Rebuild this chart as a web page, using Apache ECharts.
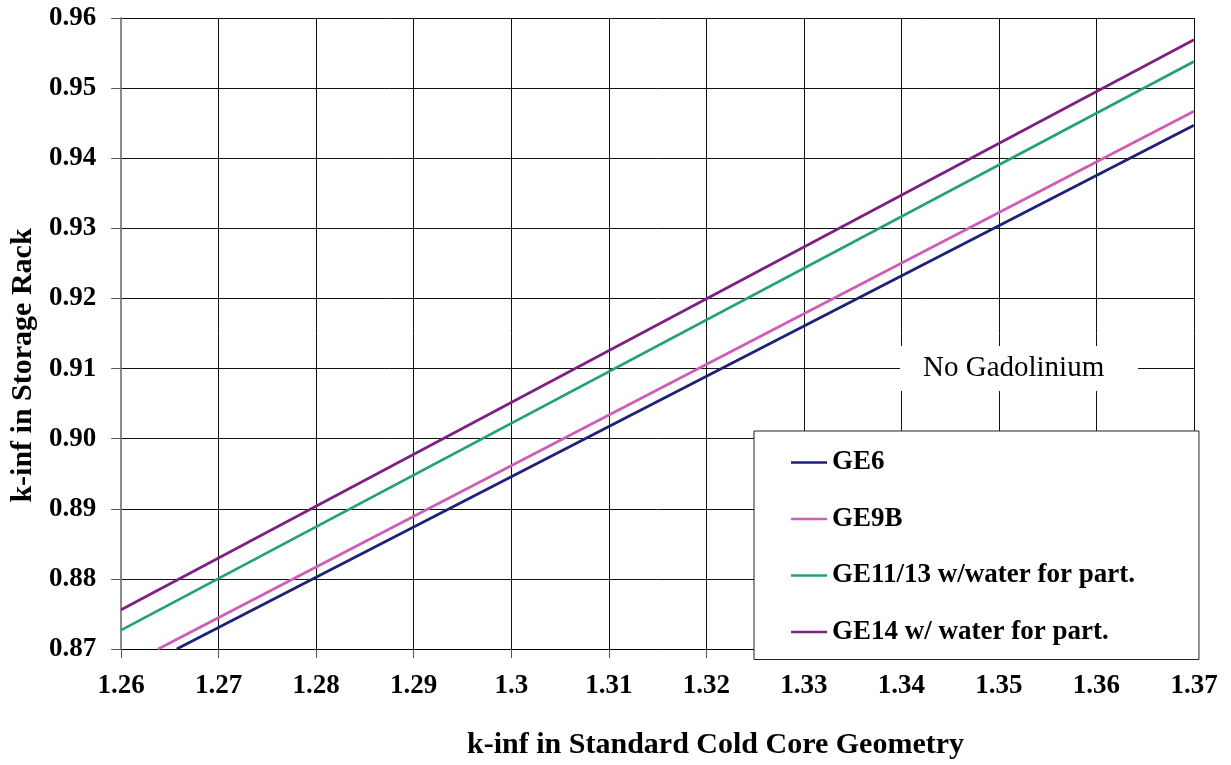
<!DOCTYPE html>
<html>
<head>
<meta charset="utf-8">
<script src="https://cdn.jsdelivr.net/npm/echarts@6/dist/echarts.min.js"></script>
<style>
  html, body { margin: 0; padding: 0; background: #fff; }
  #chart { width: 1231px; height: 765px; }
</style>
</head>
<body>
<div id="chart"></div>
<script>
// k-inf in storage rack versus k-inf in standard cold core geometry
const seriesNames = ['GE6', 'GE9B', 'GE11/13 w/water for part.', 'GE14 w/ water for part.'];
const seriesColors = ['#1d2178', '#cf5db6', '#22a371', '#7e2083'];

// [k-inf standard cold core, k-inf storage rack] end points of each straight line
const ge6 = [[1.2657, 0.8700], [1.37, 0.9447]];
const ge9b = [[1.2638, 0.8700], [1.37, 0.9467]];
const ge1113 = [[1.26, 0.8727], [1.37, 0.9538]];
const ge14 = [[1.26, 0.8756], [1.37, 0.9569]];

const xTickLabels = ['1.26', '1.27', '1.28', '1.29', '1.3', '1.31', '1.32', '1.33', '1.34', '1.35', '1.36', '1.37'];
const yTickLabels = ['0.87', '0.88', '0.89', '0.90', '0.91', '0.92', '0.93', '0.94', '0.95', '0.96'];

const annotation = 'No Gadolinium';
const xTitle = 'k-inf in Standard Cold Core Geometry';
const yTitle = 'k-inf in Storage Rack';

const serif = '"Liberation Serif", "Times New Roman", serif';
const chart = echarts.init(document.getElementById('chart'));

const data = [ge6, ge9b, ge1113, ge14];

chart.setOption({
  animation: false,
  backgroundColor: '#fff',
  grid: { left: 118, right: 37, top: 18, bottom: 115, containLabel: false },
  xAxis: {
    type: 'value',
    min: 1.26, max: 1.37, interval: 0.01,
    name: xTitle,
    nameLocation: 'middle',
    nameGap: 81,
    nameTextStyle: { fontFamily: serif, fontWeight: 'bold', fontSize: 30, color: '#000', padding: [0, 0, 0, 116] },
    axisLine: { show: true, lineStyle: { color: '#000', width: 1 } },
    axisTick: { show: true, length: 9, lineStyle: { color: '#555' } },
    axisLabel: {
      margin: 24, fontFamily: serif, fontWeight: 'bold', fontSize: 27, color: '#000',
      formatter: (v, i) => xTickLabels[i]
    },
    splitLine: { show: true, lineStyle: { color: '#111', width: 1 } }
  },
  yAxis: {
    type: 'value',
    min: 0.87, max: 0.96, interval: 0.01,
    name: yTitle,
    nameLocation: 'middle',
    nameGap: 83,
    nameRotate: 90,
    nameTextStyle: { fontFamily: serif, fontWeight: 'bold', fontSize: 30, color: '#000', padding: [0, 64, 0, 0] },
    axisLine: { show: true, lineStyle: { color: '#8a8a8a', width: 2 } },
    axisTick: { show: true, length: 10, lineStyle: { color: '#555' } },
    axisLabel: {
      margin: 25, fontFamily: serif, fontWeight: 'bold', fontSize: 27, color: '#000',
      formatter: (v, i) => yTickLabels[i]
    },
    splitLine: { show: true, lineStyle: { color: '#111', width: 1 } }
  },
  legend: {
    orient: 'vertical',
    left: 754, top: 431,
    data: seriesNames,
    icon: 'rect',
    backgroundColor: '#fff',
    borderColor: '#222',
    borderWidth: 1,
    borderRadius: 0,
    padding: [18, 64, 14, 37],
    itemWidth: 36, itemHeight: 2.5, itemGap: 29.5,
    textStyle: { fontFamily: serif, fontWeight: 'bold', fontSize: 27, color: '#000', lineHeight: 27 }
  },
  graphic: [{
    type: 'text',
    left: 900, top: 346,
    z: 10,
    style: {
      text: annotation,
      font: '29px ' + serif,
      fill: '#000',
      backgroundColor: '#fff',
      padding: [8, 23, 8, 23],
      width: 192,
      align: 'center'
    }
  }],
  series: data.map((d, i) => ({
    name: seriesNames[i],
    type: 'line',
    data: d,
    symbol: 'none',
    clip: true,
    color: seriesColors[i],
    lineStyle: { width: 2.7, color: seriesColors[i] },
    z: 3
  }))
});
</script>
</body>
</html>
